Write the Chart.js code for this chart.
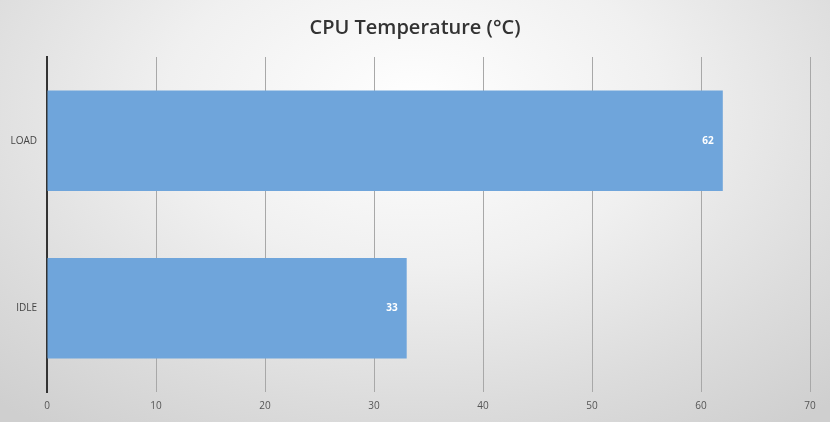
<!DOCTYPE html>
<html>
<head>
<meta charset="utf-8">
<script src="https://cdn.jsdelivr.net/npm/chart.js@4"></script>
<style>
  html, body { margin: 0; padding: 0; }
  body {
    width: 830px; height: 422px; overflow: hidden;
    background: radial-gradient(ellipse 75% 95% at 50% 25%, #ffffff 0%, #f0f0f0 40%, #dcdcdc 75%, #cfcfcf 100%);
  }
  #wrap { position: relative; width: 830px; height: 422px; }
</style>
</head>
<body>
<div id="wrap"><canvas id="c" width="830" height="422"></canvas></div>
<script>
const categories = ["LOAD", "IDLE"];
const temperatures = [62, 33];
const xTicks = [0, 10, 20, 30, 40, 50, 60, 70];
const chartTitle = "CPU Temperature (°C)";

const valueLabels = {
  id: 'valueLabels',
  afterDatasetsDraw(chart) {
    const ctx = chart.ctx;
    const meta = chart.getDatasetMeta(0);
    ctx.save();
    ctx.fillStyle = '#ffffff';
    ctx.font = 'bold 10px "Open Sans", sans-serif';
    ctx.textAlign = 'right';
    ctx.textBaseline = 'middle';
    meta.data.forEach((bar, i) => {
      ctx.fillText(String(chart.data.datasets[0].data[i]), bar.x - 9, bar.y);
    });
    ctx.restore();
  }
};

const titlePlugin = {
  id: 'centerTitle',
  afterDraw(chart) {
    const ctx = chart.ctx;
    ctx.save();
    ctx.fillStyle = '#333333';
    ctx.font = '600 20px "Open Sans", sans-serif';
    ctx.textAlign = 'center';
    ctx.textBaseline = 'middle';
    ctx.fillText(chartTitle, 415, 28);
    ctx.restore();
  }
};

new Chart(document.getElementById('c'), {
  type: 'bar',
  data: {
    labels: categories,
    datasets: [{
      data: temperatures,
      backgroundColor: '#6fa5db',
      borderWidth: 0,
      barPercentage: 0.6,
      categoryPercentage: 1.0
    }]
  },
  options: {
    indexAxis: 'y',
    responsive: false,
    animation: false,
    devicePixelRatio: 1,
    layout: { padding: { left: 0, right: 20, top: 57, bottom: 0 } },
    plugins: {
      legend: { display: false },
      tooltip: { enabled: false },
      title: { display: false }
    },
    scales: {
      x: {
        min: 0, max: 70,
        afterBuildTicks(scale) { scale.ticks = xTicks.map(v => ({ value: v })); },
        afterFit(scale) { scale.height = 30; },
        grid: { display: true, color: '#a8a8a8', lineWidth: 1, drawTicks: false },
        border: { display: false },
        ticks: {
          color: '#555555',
          padding: 8,
          font: { family: '"Open Sans", sans-serif', size: 10 },
          maxRotation: 0
        }
      },
      y: {
        afterFit(scale) { scale.width = 47; },
        grid: { display: false, drawTicks: false },
        border: { display: true, color: '#333333', width: 2 },
        ticks: {
          color: '#444444',
          padding: 10,
          font: { family: '"Open Sans", sans-serif', size: 10 }
        }
      }
    }
  },
  plugins: [valueLabels, titlePlugin]
});
</script>
</body>
</html>
